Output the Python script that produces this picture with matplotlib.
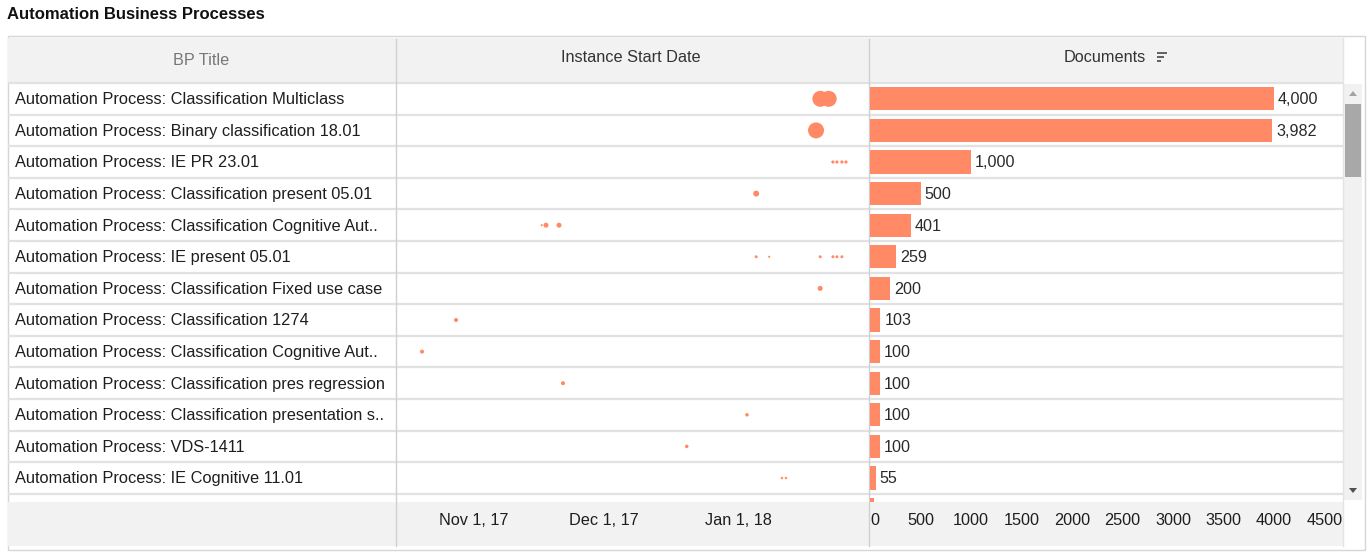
import matplotlib
matplotlib.use('Agg')
import matplotlib.pyplot as plt
from matplotlib.patches import Rectangle, Polygon
import numpy as np
import pandas as pd

plt.rcParams['font.family'] = ['Liberation Sans', 'DejaVu Sans']

# Data
titles = [
    'Automation Process: Classification Multiclass',
    'Automation Process: Binary classification 18.01',
    'Automation Process: IE PR 23.01',
    'Automation Process: Classification present 05.01',
    'Automation Process: Classification Cognitive Aut..',
    'Automation Process: IE present 05.01',
    'Automation Process: Classification Fixed use case',
    'Automation Process: Classification 1274',
    'Automation Process: Classification Cognitive Aut..',
    'Automation Process: Classification pres regression',
    'Automation Process: Classification presentation s..',
    'Automation Process: VDS-1411',
    'Automation Process: IE Cognitive 11.01',
    '',
]
documents = [4000, 3982, 1000, 500, 401, 259, 200, 103, 100, 100, 100, 100, 55, 40]

# one entry per process instance: row index, start date, instance size
inst_row = [0, 0, 1, 2, 2, 2, 2, 3, 4, 4, 4,
            5, 5, 5, 5, 5, 5, 6, 7, 8, 9, 10, 11, 12, 12]
inst_date = ['2018-01-19 19:00', '2018-01-21 17:00', '2018-01-18 19:00',
             '2018-01-22 16:30', '2018-01-23 14:40', '2018-01-24 18:00', '2018-01-25 16:30',
             '2018-01-05 00:00',
             '2017-11-16 14:00', '2017-11-17 13:30', '2017-11-20 13:30',
             '2018-01-05 00:00', '2018-01-08 00:00', '2018-01-19 18:00',
             '2018-01-22 16:30', '2018-01-23 14:40', '2018-01-24 18:00',
             '2018-01-19 18:00', '2017-10-27 20:00', '2017-10-20 00:00',
             '2017-11-21 11:30', '2018-01-02 21:00', '2017-12-20 00:00',
             '2018-01-10 22:30', '2018-01-11 20:40']
inst_docs = [2000, 2000, 2000, 170, 170, 170, 170, 570, 20, 430, 430,
             140, 20, 140, 140, 140, 140, 430, 290, 290, 290, 220, 220, 70, 70]

date_ticks = ['2017-11-01', '2017-12-01', '2018-01-01']
date_tick_labels = ['Nov 1, 17', 'Dec 1, 17', 'Jan 1, 18']
doc_ticks = [0, 500, 1000, 1500, 2000, 2500, 3000, 3500, 4000, 4500]

W, H = 1371, 556
ORANGE = '#ff8a65'
ROW_H = 31.6
ROWS_TOP, ROWS_BOT = 83, 502

fig = plt.figure(figsize=(W / 100, H / 100), dpi=100)


def px_axes(x0, y0, x1, y1, **kw):
    # axes placed by pixel box (top-left origin)
    return fig.add_axes([x0 / W, 1 - y1 / H, (x1 - x0) / W, (y1 - y0) / H], **kw)


# background layer in pixel coordinates
bg = px_axes(0, 0, W, H)
bg.set_xlim(0, W)
bg.set_ylim(H, 0)
bg.axis('off')

bg.add_patch(Rectangle((7.5, 35.5), 1357, 514, fill=False, ec='#d6d6d6', lw=1))
bg.add_patch(Rectangle((8, 38), 1335, 45, fc='#f2f2f2', ec='none'))
bg.add_patch(Rectangle((8, ROWS_BOT), 1335, 44, fc='#f2f2f2', ec='none'))

# row separators
n_lines = int((ROWS_BOT - ROWS_TOP) / ROW_H) + 1
for k in range(n_lines + 1):
    y = ROWS_TOP + k * ROW_H
    if y <= ROWS_BOT:
        bg.plot([8, 1343], [y, y], color='#e2e2e2', lw=1.6, solid_capstyle='butt')

# column separators
for x in (396, 869):
    bg.plot([x, x], [39, 546], color='#d0d0d0', lw=1)
bg.plot([1343, 1343], [38, 546], color='#e4e4e4', lw=1)

# scrollbar
bg.add_patch(Rectangle((1344, 84), 18, 416, fc='#f1f1f1', ec='none'))
bg.add_patch(Rectangle((1345, 104), 16, 73, fc='#a8a8a8', ec='none'))
bg.add_patch(Polygon([[1349, 96], [1357, 96], [1353, 91]], closed=True, fc='#a3a3a3', ec='none'))
bg.add_patch(Polygon([[1349, 488], [1357, 488], [1353, 493]], closed=True, fc='#505050', ec='none'))

# title and headers
bg.text(7, 14.5, 'Automation Business Processes', fontsize=12, fontweight='bold',
        color='#111111', va='center', ha='left')
bg.text(201, 60.5, 'BP Title', fontsize=11.7, color='#777777', va='center', ha='center')
bg.text(631, 57, 'Instance Start Date', fontsize=11.7, color='#333333', va='center', ha='center')
bg.text(1105, 57, 'Documents', fontsize=11.7, color='#333333', va='center', ha='center')
for i, ln in enumerate([10, 7, 4]):
    yy = 53 + i * 4
    bg.plot([1157, 1157 + ln], [yy, yy], color='#555555', lw=1.3, solid_capstyle='butt')

# row titles
for i, t in enumerate(titles):
    y = ROWS_TOP + (i + 0.5) * ROW_H + 0.8
    if y < ROWS_BOT - 8:
        bg.text(15, y, t, fontsize=11.8, color='#1e1e1e', va='center', ha='left')

ylim = ((ROWS_BOT - ROWS_TOP) / ROW_H - 0.5, -0.5)

# instance start date strip
ax_d = px_axes(396, ROWS_TOP, 869, ROWS_BOT)
ax_d.patch.set_alpha(0)
dates = pd.to_datetime(inst_date)
d_px = np.minimum(16, 2 + 0.007 * np.array(inst_docs))
sizes = (d_px * 72 / 100) ** 2
ax_d.scatter(dates, inst_row, s=sizes, color=ORANGE, edgecolors='none', zorder=3)
ax_d.set_xlim(pd.Timestamp('2017-10-14'), pd.Timestamp('2018-01-31'))
ax_d.set_ylim(*ylim)
ax_d.set_xticks(pd.to_datetime(date_ticks))
ax_d.set_xticklabels(date_tick_labels)
ax_d.set_yticks([])
ax_d.tick_params(axis='x', length=0, pad=8, labelsize=11.7, labelcolor='#1e1e1e')
for s in ax_d.spines.values():
    s.set_visible(False)

# documents bars
ax_b = px_axes(870, ROWS_TOP, 1343, ROWS_BOT)
ax_b.patch.set_alpha(0)
rows = np.arange(len(documents))
ax_b.barh(rows, documents, height=0.74, color=ORANGE, zorder=3)
for i, v in enumerate(documents):
    ax_b.text(v + 40, i + 0.03, f'{v:,}', va='center', ha='left', fontsize=11.6,
              color='#2a2a2a', clip_on=True)
ax_b.set_xlim(0, 4683)
ax_b.set_ylim(*ylim)
ax_b.set_xticks(doc_ticks)
ax_b.set_xticklabels([str(t) for t in doc_ticks])
ax_b.get_xticklabels()[0].set_horizontalalignment('left')
ax_b.set_yticks([])
ax_b.tick_params(axis='x', length=0, pad=8, labelsize=11.7, labelcolor='#1e1e1e')
for s in ax_b.spines.values():
    s.set_visible(False)

fig.savefig('out.png', dpi=100)
